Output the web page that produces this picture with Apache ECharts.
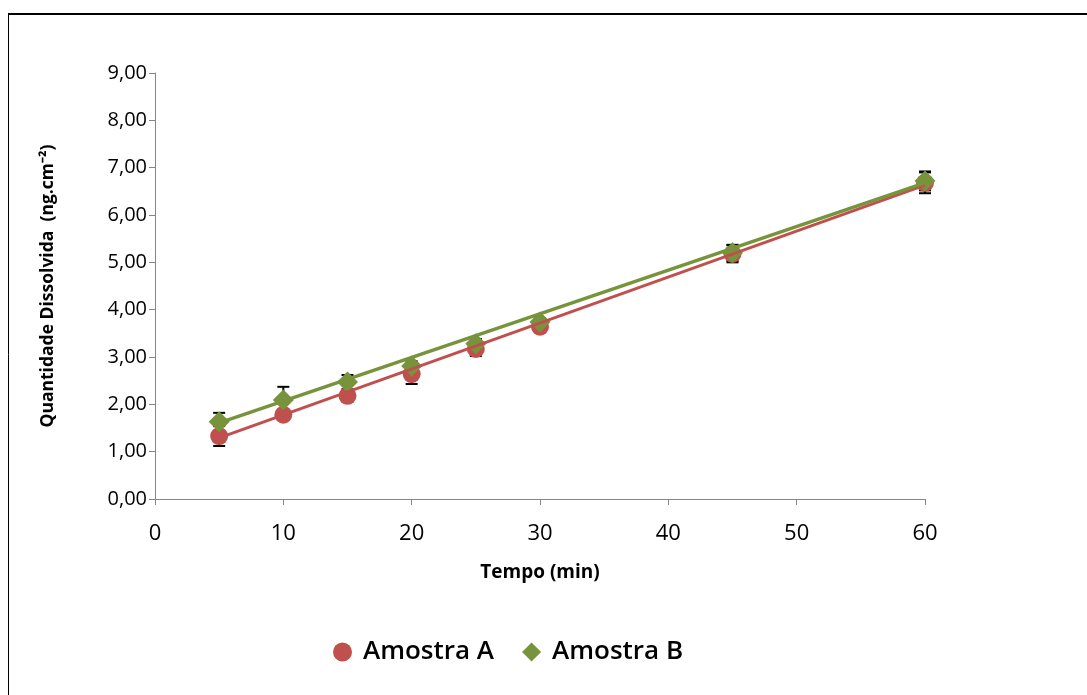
<!DOCTYPE html>
<html>
<head>
<meta charset="utf-8">
<script src="https://cdn.jsdelivr.net/npm/echarts@6/dist/echarts.min.js"></script>
<style>html,body{margin:0;padding:0;background:#fff}#c{width:1087px;height:695px}</style>
</head>
<body>
<div id="c"></div>
<script>
// Data
const tempos = [5, 10, 15, 20, 25, 30, 45, 60];
const amostraA = [1.33, 1.78, 2.18, 2.64, 3.17, 3.64, 5.18, 6.68];
const amostraB = [1.63, 2.09, 2.47, 2.81, 3.28, 3.74, 5.20, 6.72];
const erroA = [0.21, 0.10, 0.10, 0.21, 0.15, 0.12, 0.18, 0.22];
const erroB = [0.19, 0.28, 0.15, 0.10, 0.10, 0.08, 0.17, 0.20];
// Trendline endpoints
const tendA = [[5, 1.29], [60, 6.63]];
const tendB = [[5, 1.61], [60, 6.68]];
const yTicks = [0, 1, 2, 3, 4, 5, 6, 7, 8, 9];

const corA = '#C0504D';
const corB = '#77933C';

function pares(xs, ys) { return xs.map((x, i) => [x, ys[i]]); }
function errData(xs, ys, es) { return xs.map((x, i) => [x, ys[i] - es[i], ys[i] + es[i]]); }

function errRender(params, api) {
  const x = api.value(0);
  const lo = api.coord([x, api.value(1)]);
  const hi = api.coord([x, api.value(2)]);
  const hw = 6;
  const st = { stroke: '#000', lineWidth: 2 };
  return {
    type: 'group',
    children: [
      { type: 'line', shape: { x1: lo[0], y1: lo[1], x2: hi[0], y2: hi[1] }, style: st },
      { type: 'line', shape: { x1: lo[0] - hw, y1: lo[1], x2: lo[0] + hw, y2: lo[1] }, style: st },
      { type: 'line', shape: { x1: hi[0] - hw, y1: hi[1], x2: hi[0] + hw, y2: hi[1] }, style: st }
    ]
  };
}

const chart = echarts.init(document.getElementById('c'), null, { renderer: 'canvas' });
chart.setOption({
  animation: false,
  backgroundColor: '#fff',
  graphic: [
    { type: 'line', shape: { x1: 8, y1: 14, x2: 1087, y2: 14 }, style: { stroke: '#000', lineWidth: 2 } },
    { type: 'line', shape: { x1: 8.5, y1: 14, x2: 8.5, y2: 695 }, style: { stroke: '#000', lineWidth: 1 } }
  ],
  grid: { left: 155, right: 162, top: 73, bottom: 196, containLabel: false },
  legend: {
    data: [
      { name: 'Amostra A', icon: 'circle' },
      { name: 'Amostra B', icon: 'diamond' }
    ],
    left: 328,
    top: 634,
    itemWidth: 19,
    itemHeight: 19,
    itemGap: 28,
    textStyle: { fontSize: 26, color: '#000', fontFamily: 'Open Sans', fontWeight: 600, padding: [0, 0, 0, 6] }
  },
  xAxis: {
    type: 'value',
    min: 0, max: 60, interval: 10,
    name: 'Tempo (min)',
    nameLocation: 'middle',
    nameGap: 64,
    nameTextStyle: { fontSize: 19, fontWeight: 'bold', color: '#000', fontFamily: 'Open Sans' },
    axisLine: { lineStyle: { color: '#868686', width: 1 } },
    axisTick: { show: true, length: 6, lineStyle: { color: '#868686' } },
    axisLabel: { fontSize: 22, color: '#000', margin: 24, fontFamily: 'Open Sans' },
    splitLine: { show: false }
  },
  yAxis: {
    type: 'value',
    min: 0, max: 9, interval: 1,
    name: 'Quantidade Dissolvida  (ng.cm\u207B\u00B2)',
    nameLocation: 'middle',
    nameGap: 98,
    nameTextStyle: { fontSize: 17.5, fontWeight: 'bold', color: '#000', fontFamily: 'Open Sans' },
    axisLine: { show: true, lineStyle: { color: '#868686', width: 1 } },
    axisTick: { show: true, length: 6, lineStyle: { color: '#868686' } },
    axisLabel: {
      fontSize: 20, color: '#000', margin: 8, fontFamily: 'Open Sans',
      formatter: v => yTicks.includes(v) ? v.toFixed(2).replace('.', ',') : ''
    },
    splitLine: { show: false }
  },
  series: [
    {
      name: 'erroA', type: 'custom', renderItem: errRender, z: 1,
      data: errData(tempos, amostraA, erroA), encode: { x: 0, y: [1, 2] }, silent: true
    },
    {
      name: 'erroB', type: 'custom', renderItem: errRender, z: 1,
      data: errData(tempos, amostraB, erroB), encode: { x: 0, y: [1, 2] }, silent: true
    },
    {
      name: 'Amostra A', type: 'scatter', symbol: 'circle', symbolSize: 18, z: 3,
      itemStyle: { color: corA, opacity: 1 },
      data: pares(tempos, amostraA)
    },
    {
      name: 'Amostra B', type: 'scatter', symbol: 'diamond', symbolSize: 21, z: 4,
      itemStyle: { color: corB, opacity: 1 },
      data: pares(tempos, amostraB)
    },
    {
      name: 'tendA', type: 'line', showSymbol: false, symbol: 'none', z: 5, silent: true,
      lineStyle: { color: corA, width: 3 }, data: tendA
    },
    {
      name: 'tendB', type: 'line', showSymbol: false, symbol: 'none', z: 6, silent: true,
      lineStyle: { color: corB, width: 3.5 }, data: tendB
    }
  ]
});
</script>
</body>
</html>
